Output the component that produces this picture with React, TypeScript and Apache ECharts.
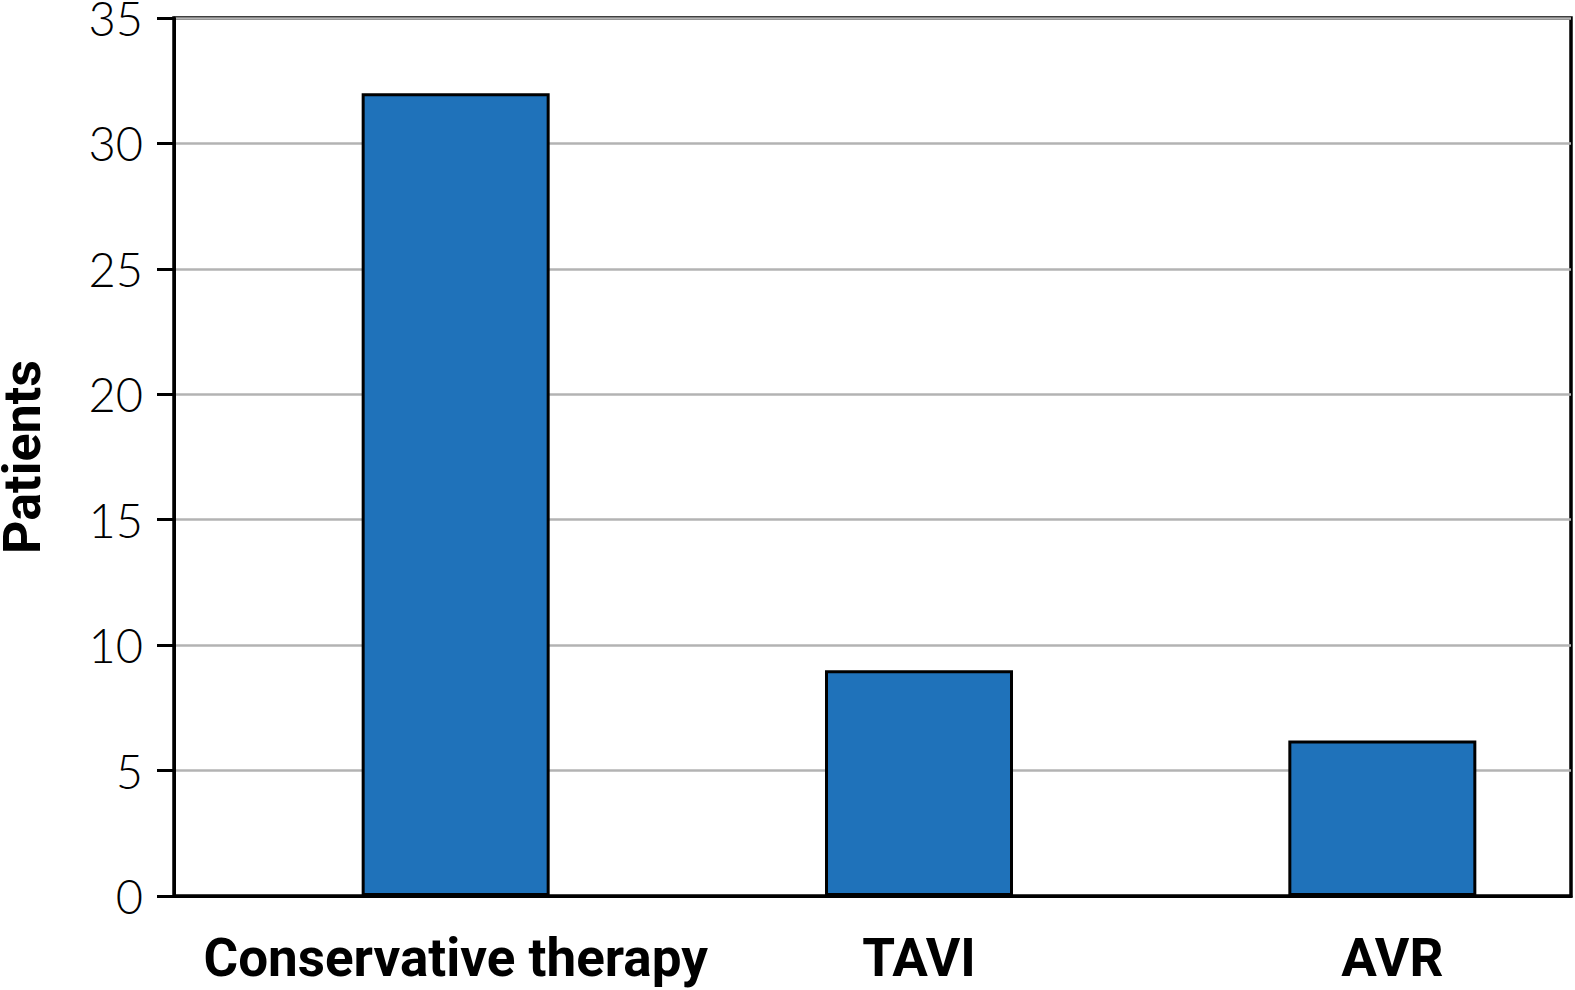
import React, { useEffect, useRef } from "react";
import * as echarts from "echarts";

const categories = ["Conservative therapy", "TAVI", "AVR"];
const patients = [32, 9, 6.2];
const yTicks = { min: 0, max: 35, interval: 5 };
const yAxisTitle = "Patients";

export default function App() {
  const ref = useRef<HTMLDivElement>(null);
  useEffect(() => {
    document.body.style.margin = "0";
    const chart = echarts.init(ref.current!, undefined, { renderer: "svg" });
    const labelData = categories.map((c, i) =>
      i === categories.length - 1 ? { value: c, textStyle: { padding: [0, 0, 0, 20] } } : c
    );
    chart.setOption({
      animation: false,
      backgroundColor: "#ffffff",
      grid: [
        { left: 174, top: 18, width: 1397, height: 878, show: true, borderColor: "#000", borderWidth: 3.5, backgroundColor: "transparent", containLabel: false, outerBoundsMode: "none" },
        { left: 224, top: 18, width: 1390, height: 878, containLabel: false, outerBoundsMode: "none" },
      ],
      xAxis: [
        {
          type: "category",
          gridIndex: 0,
          data: categories,
          axisLine: { lineStyle: { color: "#000", width: 3 } },
          axisTick: { show: false },
          axisLabel: { show: false },
        },
        {
          type: "category",
          gridIndex: 1,
          data: labelData,
          axisLine: { show: false },
          axisTick: { show: false },
          axisLabel: {
            interval: 0,
            margin: 35,
            fontSize: 53,
            fontWeight: "bold",
            fontFamily: "Roboto",
            color: "#000",
          },
        },
      ],
      yAxis: [
        {
          type: "value",
          gridIndex: 0,
          min: yTicks.min,
          max: yTicks.max,
          interval: yTicks.interval,
          name: yAxisTitle,
          nameLocation: "middle",
          nameGap: 126,
          nameTextStyle: { fontSize: 52, fontWeight: "bold", fontFamily: "Roboto", color: "#000" },
          axisLine: { show: true, lineStyle: { color: "#000", width: 3 } },
          axisTick: { show: true, length: 17, lineStyle: { color: "#000", width: 3 } },
          axisLabel: { margin: 31, fontSize: 47, fontWeight: 300, fontFamily: "Lato", color: "#000" },
          splitLine: { show: true, lineStyle: { color: "#b3b3b3", width: 2.5 } },
        },
        {
          type: "value",
          gridIndex: 1,
          min: yTicks.min,
          max: yTicks.max,
          interval: yTicks.interval,
          show: false,
          splitLine: { show: false },
        },
      ],
      series: [
        {
          type: "bar",
          xAxisIndex: 1,
          yAxisIndex: 1,
          data: patients,
          barWidth: 188,
          itemStyle: { color: "#1f72ba", borderColor: "#000", borderWidth: 3 },
        },
      ],
    });
    return () => chart.dispose();
  }, []);
  return (
    <div style={{ width: 1575, height: 990, overflow: "hidden" }}>
      <div ref={ref} style={{ width: 1700, height: 990 }} />
    </div>
  );
}
